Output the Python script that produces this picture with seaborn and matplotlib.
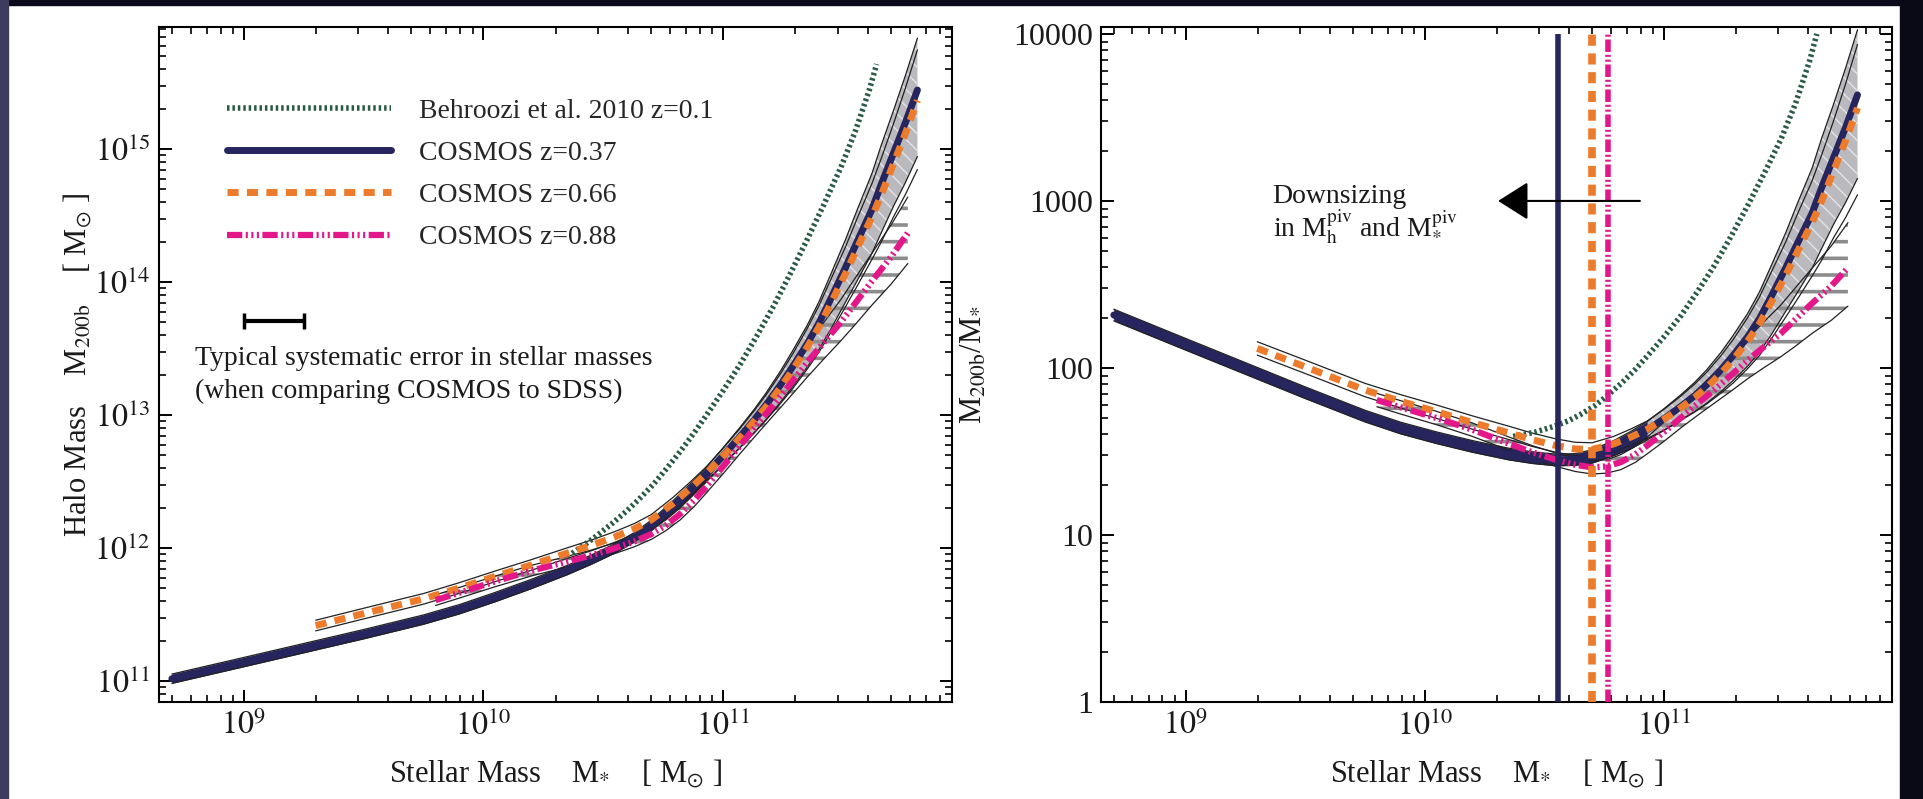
import numpy as np
import pandas as pd
import matplotlib
matplotlib.use("Agg")
import matplotlib.pyplot as plt
import seaborn as sns
from matplotlib.patches import Rectangle
from matplotlib.ticker import FixedLocator, FixedFormatter, NullFormatter, LogLocator

# ---------------- data: log10 M*, log10 (M200b/M*), band half-widths (dex) ----------------
z037_logm = [8.70, 9.00, 9.25, 9.50, 9.75, 9.90, 10.05, 10.20, 10.35, 10.45, 10.55, 10.63,
             10.70, 10.79, 10.86, 10.93, 11.00, 11.07, 11.13, 11.18, 11.24, 11.29, 11.35,
             11.40, 11.45, 11.51, 11.56, 11.62, 11.66, 11.71, 11.76, 11.81]
z037_logr = [2.317, 2.142, 1.997, 1.852, 1.712, 1.640, 1.582, 1.530, 1.485, 1.463, 1.449, 1.452,
             1.470, 1.520, 1.570, 1.629, 1.695, 1.768, 1.835, 1.900, 1.990, 2.075, 2.185,
             2.295, 2.430, 2.600, 2.750, 2.926, 3.080, 3.260, 3.440, 3.635]
z037_err_up = [0.035, 0.035, 0.035, 0.035, 0.035, 0.035, 0.035, 0.035, 0.035, 0.035, 0.035, 0.035,
               0.040, 0.045, 0.048, 0.050, 0.060, 0.070, 0.080, 0.090, 0.105, 0.120, 0.140,
               0.160, 0.185, 0.210, 0.240, 0.270, 0.295, 0.320, 0.355, 0.390]
z037_err_dn = [0.035, 0.035, 0.035, 0.035, 0.035, 0.035, 0.035, 0.035, 0.035, 0.035, 0.035, 0.035,
               0.040, 0.045, 0.055, 0.060, 0.070, 0.080, 0.095, 0.110, 0.130, 0.150, 0.175,
               0.200, 0.230, 0.260, 0.295, 0.330, 0.365, 0.400, 0.450, 0.500]

z066_logm = [9.30, 9.50, 9.75, 9.90, 10.05, 10.20, 10.35, 10.45, 10.55, 10.63, 10.70, 10.79,
             10.86, 10.93, 11.00, 11.07, 11.13, 11.18, 11.24, 11.29, 11.35, 11.40, 11.45,
             11.51, 11.56, 11.62, 11.66, 11.71, 11.76, 11.81]
z066_logr = [2.117, 2.007, 1.868, 1.800, 1.738, 1.673, 1.612, 1.570, 1.535, 1.515, 1.512, 1.545,
             1.585, 1.632, 1.692, 1.760, 1.825, 1.885, 1.970, 2.050, 2.160, 2.265, 2.395,
             2.555, 2.700, 2.870, 3.000, 3.180, 3.360, 3.557]
z066_err_up = [0.040, 0.040, 0.040, 0.040, 0.040, 0.040, 0.040, 0.040, 0.040, 0.040, 0.040, 0.045,
               0.048, 0.050, 0.060, 0.070, 0.080, 0.090, 0.105, 0.120, 0.140, 0.160, 0.180,
               0.200, 0.225, 0.250, 0.275, 0.300, 0.340, 0.380]
z066_err_dn = [0.040, 0.040, 0.040, 0.040, 0.040, 0.040, 0.040, 0.040, 0.040, 0.040, 0.040, 0.045,
               0.050, 0.055, 0.065, 0.075, 0.088, 0.100, 0.120, 0.140, 0.165, 0.190, 0.220,
               0.250, 0.285, 0.320, 0.355, 0.400, 0.460, 0.520]

z088_logm = [9.80, 9.90, 10.05, 10.20, 10.35, 10.45, 10.55, 10.63, 10.70, 10.76, 10.82, 10.88,
             10.93, 11.00, 11.07, 11.14, 11.21, 11.28, 11.35, 11.42, 11.49, 11.55, 11.62,
             11.70, 11.77]
z088_logr = [1.808, 1.764, 1.700, 1.630, 1.548, 1.495, 1.450, 1.420, 1.405, 1.410, 1.436, 1.482,
             1.535, 1.615, 1.700, 1.785, 1.868, 1.955, 2.045, 2.128, 2.208, 2.290, 2.387,
             2.490, 2.600]
z088_err_up = [0.040, 0.040, 0.040, 0.040, 0.040, 0.040, 0.040, 0.040, 0.040, 0.040, 0.045, 0.048,
               0.050, 0.060, 0.070, 0.085, 0.100, 0.115, 0.130, 0.150, 0.170, 0.190, 0.210,
               0.240, 0.270]
z088_err_dn = [0.040, 0.040, 0.040, 0.040, 0.040, 0.040, 0.040, 0.040, 0.040, 0.040, 0.045, 0.048,
               0.050, 0.055, 0.060, 0.070, 0.080, 0.095, 0.110, 0.125, 0.140, 0.160, 0.180,
               0.205, 0.230]

beh_logm = [10.37, 10.46, 10.54, 10.60, 10.65, 10.71, 10.76, 10.82, 10.88, 10.93, 11.00,
            11.07, 11.14, 11.21, 11.28, 11.35, 11.42, 11.49, 11.55, 11.61, 11.64]
beh_logr = [1.590, 1.615, 1.650, 1.683, 1.720, 1.772, 1.830, 1.905, 1.990, 2.070, 2.185,
            2.310, 2.455, 2.610, 2.785, 2.970, 3.165, 3.370, 3.580, 3.840, 4.000]

pivot_logm = [10.557, 10.700, 10.766]          # M*^piv for z=0.37, 0.66, 0.88
series_labels = ["Behroozi et al. 2010 z=0.1", "COSMOS z=0.37", "COSMOS z=0.66", "COSMOS z=0.88"]

errbar_logm = [9.0, 9.25]                       # typical systematic error
errbar_mh = 5.1e13
arrow_logm = [10.90, 10.307]                    # downsizing arrow (from, to)
arrow_ratio = 1000

left_xticks = [1e9, 1e10, 1e11]
left_xticklabels = [r"$10^{9}$", r"$10^{10}$", r"$10^{11}$"]
left_yticks = [1e11, 1e12, 1e13, 1e14, 1e15]
left_yticklabels = [r"$10^{11}$", r"$10^{12}$", r"$10^{13}$", r"$10^{14}$", r"$10^{15}$"]
right_yticks = [1, 10, 100, 1000, 10000]
right_yticklabels = ["1", "10", "100", "1000", "10000"]

# ---------------- style ----------------
sns.set_theme(style="ticks")
plt.rcParams["font.family"] = ["Liberation Serif", "DejaVu Serif"]
plt.rcParams["mathtext.fontset"] = "stix"
plt.rcParams["lines.scale_dashes"] = False
plt.rcParams["axes.linewidth"] = 1.5

NAVY = "#27255e"
ORANGE = "#ec7b2c"
MAGENTA = "#e3178a"
GREEN = "#285a44"
TXT = "#1a1a1a"
FS = 20        # annotation / legend text
FS_TICK = 23
FS_LAB = 22

fig = plt.figure(figsize=(19.23, 7.99), dpi=100, facecolor="white")
fig.add_artist(Rectangle((0, 0.9935), 1, 0.0065, transform=fig.transFigure, color="#0a0a1c", zorder=-5))
fig.add_artist(Rectangle((0, 0), 0.0042, 1, transform=fig.transFigure, color="#3c3c5e", zorder=-5))
fig.add_artist(Rectangle((0.9881, 0), 0.0119, 1, transform=fig.transFigure, color="#0a0a16", zorder=-5))

axL = fig.add_axes([0.08268, 0.12140, 0.41238, 0.84481])
axR = fig.add_axes([0.57254, 0.12140, 0.41134, 0.84481])


def yv(logm, logr, halo):
    logm = np.asarray(logm, dtype=float)
    logr = np.asarray(logr, dtype=float)
    return 10 ** (logm + logr) if halo else 10 ** logr


def band(logm, logr, up, dn):
    r = np.asarray(logr, dtype=float)
    return r + np.asarray(up), r - np.asarray(dn)


def draw_panel(ax, halo):
    lm37, lm66, lm88 = (np.asarray(a, dtype=float) for a in (z037_logm, z066_logm, z088_logm))
    hi37, lo37 = band(lm37, z037_logr, z037_err_up, z037_err_dn)
    hi66, lo66 = band(lm66, z066_logr, z066_err_up, z066_err_dn)
    hi88, lo88 = band(lm88, z088_logr, z088_err_up, z088_err_dn)

    # z=0.37 band: grey with light hatching, solid navy where narrow
    ax.fill_between(10 ** lm37, yv(lm37, lo37, halo), yv(lm37, hi37, halo),
                    facecolor="#b9b9be", edgecolor="#e4e4e8", hatch="\\\\", linewidth=0, zorder=1)
    sel = lm37 <= 10.93
    ax.fill_between(10 ** lm37[sel], yv(lm37[sel], lo37[sel], halo), yv(lm37[sel], hi37[sel], halo),
                    facecolor=NAVY, linewidth=0, zorder=1.1)
    # z=0.88 band: thick grey hatch lines
    with plt.rc_context({"hatch.linewidth": 2.6}):
        ax.fill_between(10 ** lm88, yv(lm88, lo88, halo), yv(lm88, hi88, halo),
                        facecolor="none", edgecolor="#8c8c8c", hatch="-", linewidth=0, zorder=1.2)
    # band outlines
    for lm, lo, hi in [(lm37, lo37, hi37), (lm66, lo66, hi66), (lm88, lo88, hi88)]:
        ax.plot(10 ** lm, yv(lm, lo, halo), color="#222222", lw=0.9, zorder=2)
        ax.plot(10 ** lm, yv(lm, hi, halo), color="#222222", lw=0.9, zorder=2)

    # central relations via seaborn
    df_b = pd.DataFrame({"m": 10 ** np.asarray(beh_logm), "y": yv(beh_logm, beh_logr, halo)})
    sns.lineplot(data=df_b, x="m", y="y", ax=ax, color=GREEN, lw=4.0, estimator=None,
                 label=series_labels[0], zorder=3)
    ax.lines[-1].set_dashes((1.8, 2.1))
    df_1 = pd.DataFrame({"m": 10 ** lm37, "y": yv(lm37, z037_logr, halo)})
    sns.lineplot(data=df_1, x="m", y="y", ax=ax, color=NAVY, lw=5, estimator=None,
                 label=series_labels[1], zorder=4)
    df_2 = pd.DataFrame({"m": 10 ** lm66, "y": yv(lm66, z066_logr, halo)})
    sns.lineplot(data=df_2, x="m", y="y", ax=ax, color=ORANGE, lw=5, estimator=None,
                 label=series_labels[2], zorder=5)
    ax.lines[-1].set_dashes((8, 6))
    df_3 = pd.DataFrame({"m": 10 ** lm88, "y": yv(lm88, z088_logr, halo)})
    sns.lineplot(data=df_3, x="m", y="y", ax=ax, color=MAGENTA, lw=4.5, estimator=None,
                 label=series_labels[3], zorder=6)
    ax.lines[-1].set_dashes((11, 2.5, 1.5, 2.5, 1.5, 2.5, 1.5, 2.5))

    ax.set_xscale("log")
    ax.set_yscale("log")
    ax.set_xlim(4.43e8, 9.0e11)
    ax.xaxis.set_major_locator(FixedLocator(left_xticks))
    ax.xaxis.set_major_formatter(FixedFormatter(left_xticklabels))
    ax.xaxis.set_minor_locator(LogLocator(base=10, subs=np.arange(2, 10), numticks=20))
    ax.xaxis.set_minor_formatter(NullFormatter())
    ax.yaxis.set_minor_locator(LogLocator(base=10, subs=np.arange(2, 10), numticks=20))
    ax.yaxis.set_minor_formatter(NullFormatter())
    ax.tick_params(which="both", direction="in", top=True, right=True, color="black",
                   labelsize=FS_TICK, labelcolor=TXT)
    ax.tick_params(which="major", length=9, width=1.4, pad=6)
    ax.tick_params(which="minor", length=5, width=1.2)
    for s in ax.spines.values():
        s.set_color("black")
        s.set_linewidth(1.5)
    ax.set_facecolor("white")
    ax.set_xlabel(r"Stellar Mass    M$_{*}$    [ M$_{\odot}$ ]", fontsize=FS_LAB, color=TXT)
    ax.xaxis.label.set_va("center")
    ax.xaxis.set_label_coords(0.5, -0.106)


# ---------------- left panel ----------------
draw_panel(axL, halo=True)
axL.set_ylim(6.95e10, 8.3e15)
axL.yaxis.set_major_locator(FixedLocator(left_yticks))
axL.yaxis.set_major_formatter(FixedFormatter(left_yticklabels))
axL.set_ylabel(r"Halo Mass    M$_\mathrm{200b}$    [ M$_{\odot}$ ]", fontsize=FS_LAB, color=TXT)
axL.yaxis.label.set_va("center")
axL.yaxis.set_label_coords(-0.103, 0.5)

handles, labels = axL.get_legend_handles_labels()
axL.legend(handles, labels, loc="upper left", bbox_to_anchor=(0.0858, 0.894), frameon=False,
           fontsize=FS, handlelength=5.9, handletextpad=1.0, labelspacing=0.60,
           borderpad=0, borderaxespad=0)

e_lo, e_hi = 10 ** errbar_logm[0], 10 ** errbar_logm[1]
e_c = 10 ** (0.5 * (errbar_logm[0] + errbar_logm[1]))
axL.errorbar([e_c], [errbar_mh], xerr=[[e_c - e_lo], [e_hi - e_c]], fmt="none", ecolor="black",
             elinewidth=3, capsize=5.5, capthick=2.5, zorder=7)
axL.text(6.24e8, 2.0e13, "Typical systematic error in stellar masses\n(when comparing COSMOS to SDSS)",
         fontsize=FS, ha="left", va="center", linespacing=1.45, color=TXT)

# ---------------- right panel ----------------
draw_panel(axR, halo=False)
axR.get_legend().remove()
axR.set_ylim(1, 1.1e4)
axR.yaxis.set_major_locator(FixedLocator(right_yticks))
axR.yaxis.set_major_formatter(FixedFormatter(right_yticklabels))
axR.set_ylabel(r"M$_\mathrm{200b}$/M$_{*}$", fontsize=FS_LAB, color=TXT)
axR.yaxis.label.set_va("center")
axR.yaxis.set_label_coords(-0.160, 0.5)

piv_styles = [(NAVY, 4.0, None), (ORANGE, 5.5, (8, 5.5)), (MAGENTA, 4.0, (9, 2, 1.5, 2, 1.5, 2))]
for lm, (col, lw, dsh) in zip(pivot_logm, piv_styles):
    ln, = axR.plot([10 ** lm, 10 ** lm], [1, 1e4], color=col, lw=lw, zorder=8, solid_capstyle="butt")
    if dsh is not None:
        ln.set_dashes(dsh)

axR.annotate("", xy=(10 ** arrow_logm[1], arrow_ratio), xytext=(10 ** arrow_logm[0], arrow_ratio),
             arrowprops=dict(arrowstyle="-|>,head_length=0.95,head_width=0.6", mutation_scale=20,
                             lw=1.5, color="black", shrinkA=0, shrinkB=0), zorder=9)
axR.text(2.31e9, 1057, "Downsizing", fontsize=FS, ha="left", va="center", color=TXT)
axR.text(2.31e9, 700, r"in M$_\mathrm{h}^\mathrm{piv}$ and M$_{*}^\mathrm{piv}$", fontsize=FS,
         ha="left", va="center", color=TXT)

fig.savefig("out.png", dpi=100, facecolor="white")
